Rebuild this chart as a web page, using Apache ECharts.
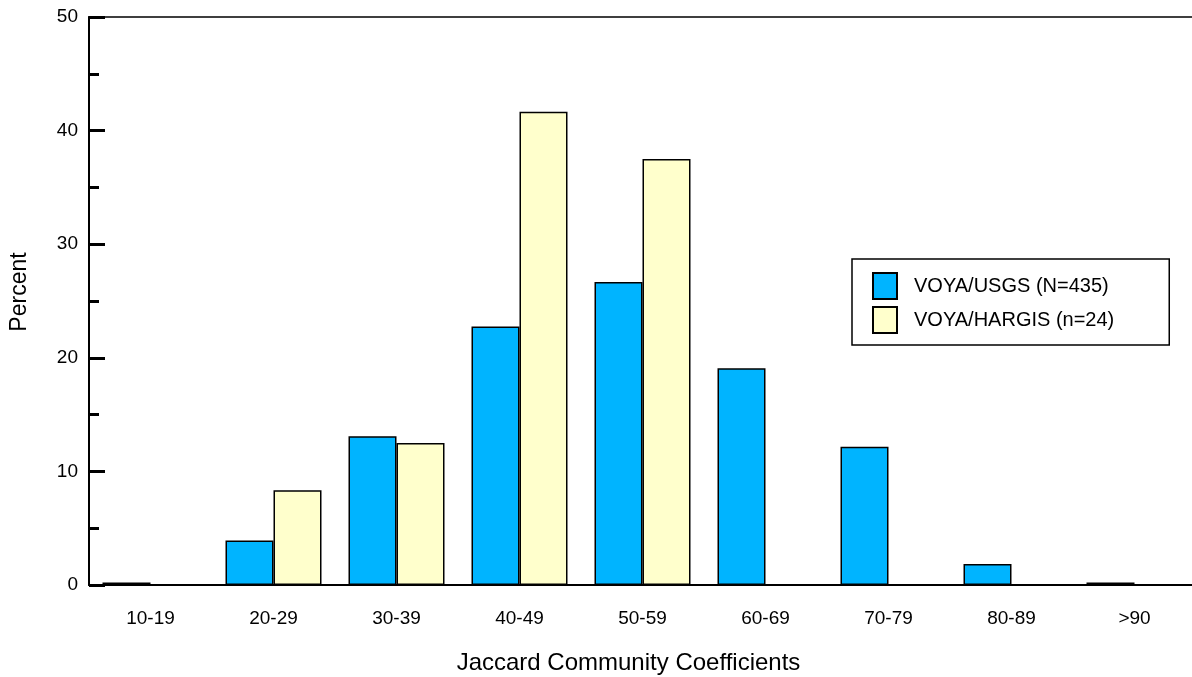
<!DOCTYPE html>
<html>
<head>
<meta charset="utf-8">
<script src="https://cdn.jsdelivr.net/npm/echarts@6/dist/echarts.min.js"></script>
<style>
  html, body { margin: 0; padding: 0; background: #fff; }
  #chart { width: 1192px; height: 677px; }
</style>
</head>
<body>
<div id="chart"></div>
<script>
// Jaccard coefficient classes
const categories = ['10-19', '20-29', '30-39', '40-49', '50-59', '60-69', '70-79', '80-89', '>90'];
// Percent of comparisons in each class
const usgsValues = [0.23, 3.91, 13.1, 22.76, 26.67, 19.08, 12.18, 1.84, 0.23];
const hargisValues = [null, 8.33, 12.5, 41.67, 37.5, null, null, null, null];
const seriesNames = ['VOYA/USGS (N=435)', 'VOYA/HARGIS (n=24)'];

const font = 'Liberation Sans, Arial, sans-serif';
const chart = echarts.init(document.getElementById('chart'), null, { renderer: 'canvas' });

chart.setOption({
  animation: false,
  backgroundColor: '#ffffff',
  textStyle: { fontFamily: font, color: '#000' },
  grid: {
    left: 89, top: 17, height: 568, width: 1107,
    outerBoundsMode: 'none',
    containLabel: false,
    show: true, borderColor: '#000', borderWidth: 1.5, backgroundColor: 'transparent'
  },
  legend: {
    orient: 'vertical',
    left: 852, top: 259,
    padding: [13, 55, 11, 20],
    itemGap: 6,
    itemWidth: 24, itemHeight: 26,
    borderColor: '#000', borderWidth: 1.5,
    icon: 'rect',
    textStyle: { fontFamily: font, fontSize: 20, color: '#000', padding: [0, 0, 0, 12] },
    data: seriesNames
  },
  xAxis: {
    type: 'category',
    data: categories,
    name: 'Jaccard Community Coefficients',
    nameLocation: 'middle',
    nameGap: 66,
    nameTextStyle: { fontFamily: font, fontSize: 24, color: '#000', padding: [0, 28, 0, 0] },
    axisLine: { lineStyle: { color: '#000', width: 2 } },
    axisTick: { alignWithLabel: true, length: 13, lineStyle: { color: '#000', width: 3 } },
    axisLabel: { margin: 24, fontFamily: font, fontSize: 19, color: '#000' },
    splitLine: { show: false }
  },
  yAxis: {
    type: 'value',
    min: 0, max: 50, interval: 10,
    name: 'Percent',
    nameLocation: 'middle',
    nameGap: 58,
    nameTextStyle: { fontFamily: font, fontSize: 23, color: '#000', padding: [0, 0, 0, 18] },
    axisLine: { show: true, lineStyle: { color: '#000', width: 2 } },
    axisTick: { show: true, inside: true, length: 16, lineStyle: { color: '#000', width: 3 } },
    minorTick: { show: true, splitNumber: 2, length: 10, lineStyle: { color: '#000', width: 3 } },
    axisLabel: { margin: 11, fontFamily: font, fontSize: 19, color: '#000' },
    splitLine: { show: false }
  },
  series: [
    {
      name: seriesNames[0],
      type: 'bar',
      data: usgsValues,
      barWidth: 48,
      barGap: '0%',
      itemStyle: { color: '#00B4FF', borderColor: '#000', borderWidth: 1.5 }
    },
    {
      name: seriesNames[1],
      type: 'bar',
      data: hargisValues,
      barWidth: 48,
      barGap: '0%',
      itemStyle: { color: '#FFFFCC', borderColor: '#000', borderWidth: 1.5 }
    }
  ]
});
</script>
</body>
</html>
